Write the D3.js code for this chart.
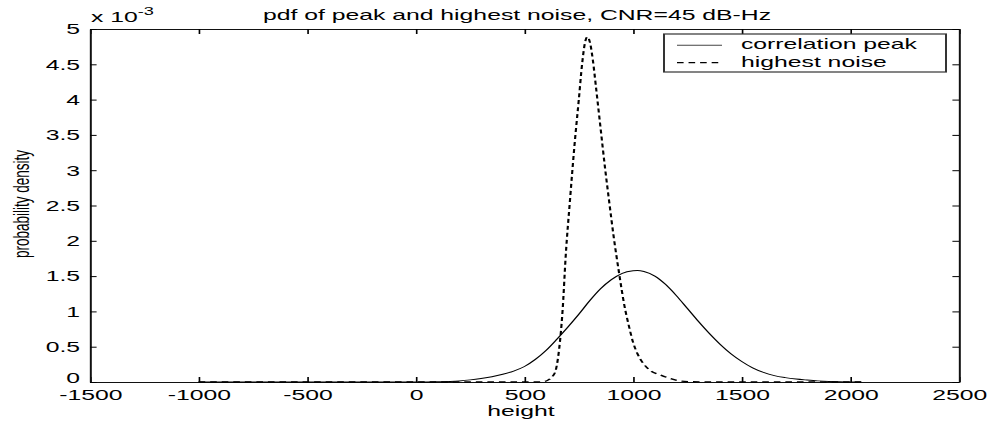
<!DOCTYPE html>
<html><head><meta charset="utf-8">
<script src="https://cdn.jsdelivr.net/npm/d3@7/dist/d3.min.js"></script>
<style>
html,body{margin:0;padding:0;background:#fff;}
svg{display:block;}
text{font-family:"Liberation Sans",Arial,sans-serif;fill:#000;}
</style></head><body>
<svg id="chart" width="988" height="423"></svg>
<script>
// ---- data (y values in units of 1e-3) ----
const titleText = "pdf of peak and highest noise, CNR=45 dB-Hz";
const xLabel = "height";
const yLabel = "probability density";
const xTicks = [-1500, -1000, -500, 0, 500, 1000, 1500, 2000, 2500];
const yTicks = [0, 0.5, 1, 1.5, 2, 2.5, 3, 3.5, 4, 4.5, 5];
const seriesNames = ["correlation peak", "highest noise"];

const peakX = [-1000, -500, 0, 100, 200, 250, 300, 350, 400, 450, 500, 550, 600, 650, 700, 750, 800, 850, 900, 950, 1000, 1020, 1050, 1100, 1150, 1200, 1250, 1300, 1350, 1400, 1450, 1500, 1550, 1600, 1650, 1700, 1750, 1800, 1850, 1900, 1950, 2000, 2050];
const peakY = [0, 0, 0, 0.003, 0.015, 0.03, 0.05, 0.075, 0.11, 0.155, 0.22, 0.32, 0.45, 0.61, 0.78, 0.96, 1.15, 1.32, 1.45, 1.54, 1.575, 1.58, 1.565, 1.5, 1.38, 1.22, 1.04, 0.86, 0.69, 0.535, 0.40, 0.29, 0.20, 0.135, 0.09, 0.062, 0.042, 0.028, 0.016, 0.008, 0.004, 0.001, 0];

const noiseX = [-1000, -500, 0, 500, 560, 590, 610, 630, 645, 660, 675, 690, 710, 730, 750, 765, 778, 790, 802, 815, 830, 850, 870, 890, 910, 935, 960, 980, 1000, 1020, 1045, 1080, 1125, 1170, 1215, 1260, 1350, 1450, 2050];
const noiseY = [0, 0, 0, 0, 0, 0.005, 0.03, 0.08, 0.18, 0.48, 1.0, 1.8, 2.6, 3.35, 4.0, 4.5, 4.8, 4.89, 4.8, 4.55, 4.15, 3.6, 3.05, 2.55, 2.07, 1.55, 1.08, 0.8, 0.56, 0.4, 0.27, 0.16, 0.1, 0.05, 0.015, 0.005, 0.001, 0, 0];

// ---- layout ----
const SX = 1.65;               // horizontal stretch of the original picture
const FS = 15;
const pLeft = 90 / SX, pRight = 959 / SX, pTop = 29, pBottom = 382;

const svg = d3.select("#chart");
const root = svg.append("g").attr("transform", `scale(${SX},1)`);

const x = d3.scaleLinear().domain([-1500, 2500]).range([pLeft, pRight]);
const y = d3.scaleLinear().domain([0, 5]).range([pBottom, pTop]);

root.append("rect").attr("x", pLeft).attr("y", pTop)
  .attr("width", pRight - pLeft).attr("height", pBottom - pTop).attr("fill", "#fff");

function styleAxis(g, labels) {
  g.attr("font-family", null).attr("font-size", null);
  g.select(".domain").attr("stroke", "#111").attr("stroke-width", 1.2);
  g.selectAll(".tick line").attr("stroke", "#000").attr("stroke-width", 1);
  if (!labels) g.selectAll(".tick text").remove();
  else g.selectAll(".tick text").attr("font-size", FS).attr("fill", "#000")
        .attr("font-family", "'Liberation Sans', Arial, sans-serif");
}

const fmt = d => String(d);

root.append("g").attr("transform", `translate(0,${pBottom})`)
  .call(d3.axisBottom(x).tickValues(xTicks).tickSize(-5).tickSizeOuter(0).tickPadding(7).tickFormat(fmt))
  .call(g => styleAxis(g, true));
root.append("g").attr("transform", `translate(0,${pTop})`)
  .call(d3.axisTop(x).tickValues(xTicks).tickSize(-5).tickSizeOuter(0).tickFormat(fmt))
  .call(g => styleAxis(g, false));
root.append("g").attr("transform", `translate(${pLeft},0)`)
  .call(d3.axisLeft(y).tickValues(yTicks).tickSize(-4).tickSizeOuter(0).tickPadding(6).tickFormat(fmt))
  .call(g => styleAxis(g, true))
  .call(g => g.selectAll(".tick text").attr("dy", d => d === 0 ? "0em" : "0.32em"));
root.append("g").attr("transform", `translate(${pRight},0)`)
  .call(d3.axisRight(y).tickValues(yTicks).tickSize(-4).tickSizeOuter(0).tickFormat(fmt))
  .call(g => styleAxis(g, false));

// ---- curves ----
const line = d3.line().x(d => x(d[0])).y(d => y(d[1])).curve(d3.curveMonotoneX);
const peakData = peakX.map((v, i) => [v, peakY[i]]);
const noiseData = noiseX.map((v, i) => [v, noiseY[i]]);

root.append("path").datum(peakData).attr("d", line)
  .attr("fill", "none").attr("stroke", "#000").attr("stroke-width", 0.9);
root.append("path").datum(noiseData).attr("d", line)
  .attr("fill", "none").attr("stroke", "#000").attr("stroke-width", 1.3)
  .attr("stroke-dasharray", "4,3");

// ---- texts ----
root.append("text").attr("x", 517 / SX).attr("y", 20)
  .attr("text-anchor", "middle").attr("font-size", FS).text(titleText);
root.append("text").attr("x", 521 / SX).attr("y", 416)
  .attr("text-anchor", "middle").attr("font-size", FS).text(xLabel);
root.append("text")
  .attr("transform", `translate(${29.3 / SX},204) rotate(-90)`)
  .attr("text-anchor", "middle").attr("font-size", 13.5).text(yLabel);

const mult = root.append("text").attr("x", 91 / SX).attr("y", 22.5).attr("font-size", FS);
mult.append("tspan").text("x 10");
mult.append("tspan").attr("font-size", 11).attr("dy", -7.5).text("-3");

// ---- legend ----
const lg = root.append("g");
lg.append("rect").attr("x", 664 / SX).attr("y", 34)
  .attr("width", (946 - 664) / SX).attr("height", 38)
  .attr("fill", "#fff").attr("stroke", "#333").attr("stroke-width", 1.2);
const legendRows = [
  {name: seriesNames[0], ly: 45.3, ty: 49.5, dash: null, w: 1, c: "#444"},
  {name: seriesNames[1], ly: 62.7, ty: 67, dash: "4,3", w: 1.3, c: "#000"}
];
legendRows.forEach(r => {
  const ln = lg.append("line").attr("x1", 677 / SX).attr("x2", 722 / SX)
    .attr("y1", r.ly).attr("y2", r.ly).attr("stroke", r.c).attr("stroke-width", r.w);
  if (r.dash) ln.attr("stroke-dasharray", r.dash);
  lg.append("text").attr("x", 741 / SX).attr("y", r.ty).attr("font-size", FS).text(r.name);
});
</script>
</body></html>
